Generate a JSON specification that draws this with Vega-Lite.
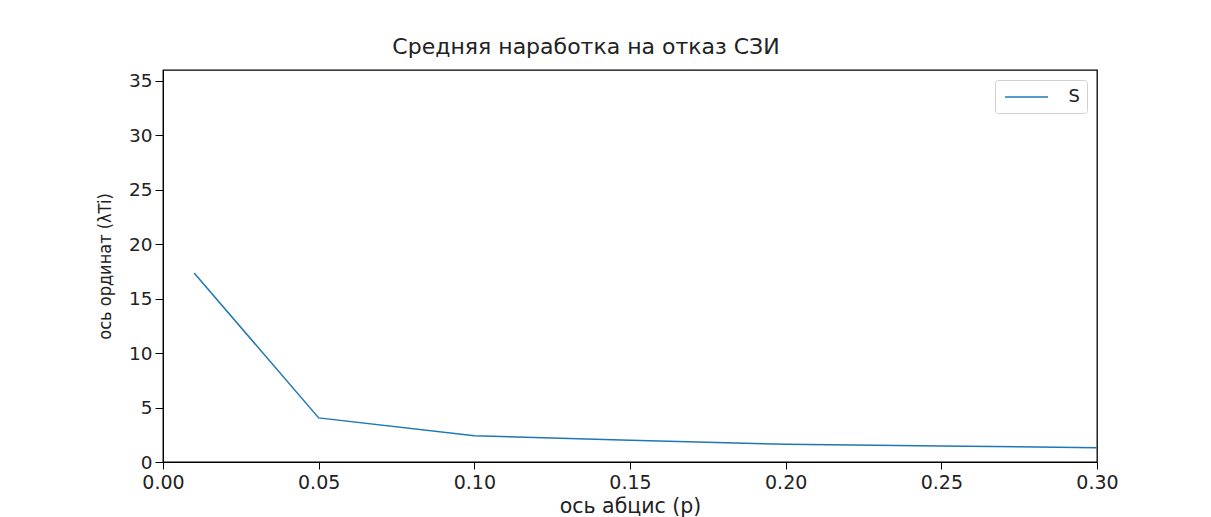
{
  "$schema": "https://vega.github.io/schema/vega-lite/v6.json",
  "width": 934,
  "height": 392,
  "autosize": {"type": "none"},
  "padding": {"left": 163, "top": 70, "right": 114, "bottom": 55},
  "background": "white",
  "title": {
    "text": "Средняя наработка на отказ СЗИ",
    "font": "DejaVu Sans",
    "fontSize": 22,
    "fontWeight": "normal",
    "color": "#222",
    "anchor": "middle",
    "dx": -44,
    "offset": 11
  },
  "data": {
    "values": [
      {"p": 0.01, "t": 17.35, "series": "S"},
      {"p": 0.05, "t": 4.05, "series": "S"},
      {"p": 0.1, "t": 2.42, "series": "S"},
      {"p": 0.15, "t": 2.0, "series": "S"},
      {"p": 0.2, "t": 1.63, "series": "S"},
      {"p": 0.25, "t": 1.48, "series": "S"},
      {"p": 0.3, "t": 1.32, "series": "S"}
    ]
  },
  "config": {
    "view": {"stroke": "black", "strokeWidth": 1.3},
    "axis": {
      "domainColor": "black",
      "tickColor": "black",
      "tickSize": 7,
      "grid": false,
      "labelFont": "DejaVu Sans",
      "labelFontSize": 19,
      "labelColor": "#222",
      "titleFont": "DejaVu Sans",
      "titleFontSize": 20.5,
      "titleFontWeight": "normal",
      "titleColor": "#222"
    }
  },
  "mark": {"type": "line", "strokeWidth": 1.5},
  "encoding": {
    "x": {
      "field": "p",
      "type": "quantitative",
      "scale": {"domain": [0, 0.3], "nice": false, "zero": false},
      "axis": {
        "title": "ось абцис (p)",
        "values": [0, 0.05, 0.1, 0.15, 0.2, 0.25, 0.3],
        "format": ".2f",
        "labelPadding": 4,
        "titlePadding": 4,
        "labelFlush": false
      }
    },
    "y": {
      "field": "t",
      "type": "quantitative",
      "scale": {"domain": [0, 36], "nice": false},
      "axis": {
        "title": "ось ординат (λTi)",
        "titleFont": "DejaVu Sans Condensed",
        "titleFontSize": 18,
        "labelFontSize": 18.5,
        "values": [0, 5, 10, 15, 20, 25, 30, 35],
        "tickSize": 8,
        "labelPadding": 3,
        "titlePadding": 14
      }
    },
    "color": {
      "field": "series",
      "type": "nominal",
      "scale": {"range": ["#1f77b4"]},
      "legend": {
        "title": null,
        "orient": "top-right",
        "offset": 10,
        "padding": 7,
        "strokeColor": "#d0d0d0",
        "fillColor": "white",
        "cornerRadius": 3,
        "symbolType": "M-2.39,0H2.39",
        "symbolSize": 324,
        "symbolOffset": 14.5,
        "symbolStrokeWidth": 1.5,
        "labelFont": "DejaVu Sans",
        "labelFontSize": 18,
        "labelColor": "#222",
        "labelOffset": 32
      }
    }
  }
}
